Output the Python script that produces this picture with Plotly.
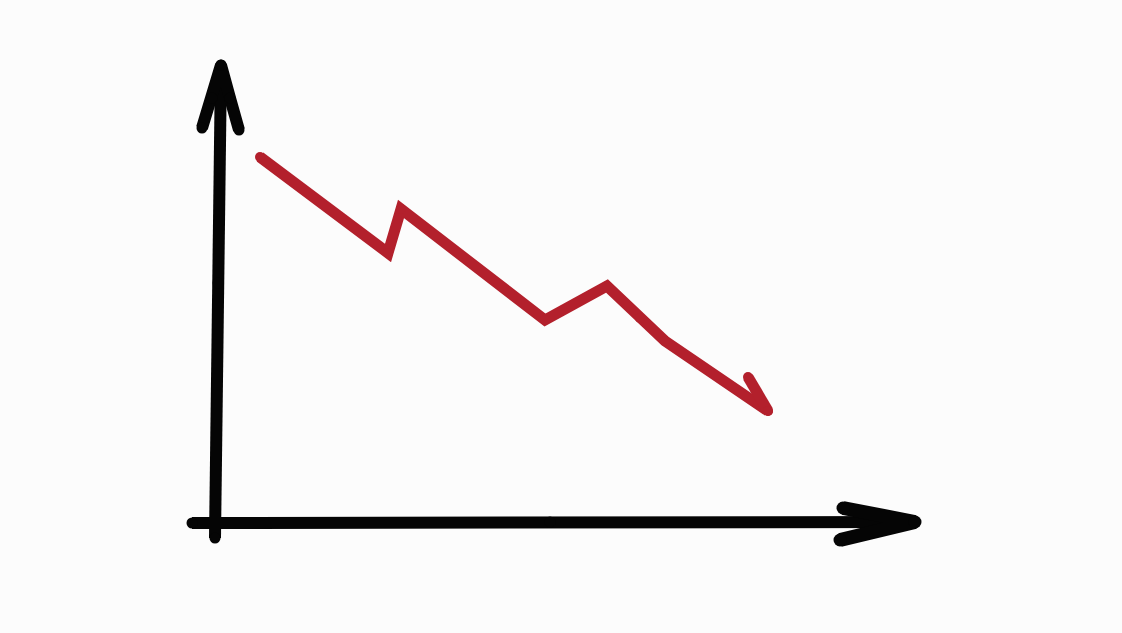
import plotly.graph_objects as go

W, H = 1122, 633

# Red trend line (sketch units: x to the right, y upwards)
trend_x = [260, 388, 401, 545, 607, 640, 665, 768]
trend_y = [476, 380, 424, 313, 347, 315, 292, 222]
# small arrowhead stroke at end of trend line
head_x = [748, 768]
head_y = [256, 222]

# Axes (hand drawn)
yaxis_x = [215, 218, 221]
yaxis_y = [95, 350, 568]
yhead_x = [202, 212, 221, 230, 239]
yhead_y = [505, 535, 568, 535, 503]

xaxis_x = [192, 550, 915]
xaxis_y = [110, 111, 111]
xhead_x = [843, 915, 840]
xhead_y = [125, 111, 93]

RED = "#b3202c"
BLACK = "#050505"
BG = "#fcfcfc"

fig = go.Figure()

def stroke(xs, ys, color, width):
    fig.add_trace(go.Scatter(
        x=xs, y=ys, mode="lines+markers",
        line=dict(color=color, width=width),
        marker=dict(color=color, size=width - 1, line=dict(width=0)),
        hoverinfo="skip", showlegend=False))

stroke(yaxis_x, yaxis_y, BLACK, 12)
stroke(yhead_x, yhead_y, BLACK, 12)
stroke(xaxis_x, xaxis_y, BLACK, 12)
stroke(xhead_x, xhead_y, BLACK, 14)
stroke(trend_x, trend_y, RED, 11)
stroke(head_x, head_y, RED, 11)

# ranges compensate for the 8px page margin around the plot div
fig.update_layout(
    width=W, height=H,
    margin=dict(l=0, r=0, t=0, b=0),
    paper_bgcolor=BG, plot_bgcolor=BG,
    xaxis=dict(range=[8, W + 8], visible=False, fixedrange=True),
    yaxis=dict(range=[-8, H - 8], visible=False, fixedrange=True),
)

fig.write_html("out.html", post_script="document.body.style.background='%s';" % BG)
